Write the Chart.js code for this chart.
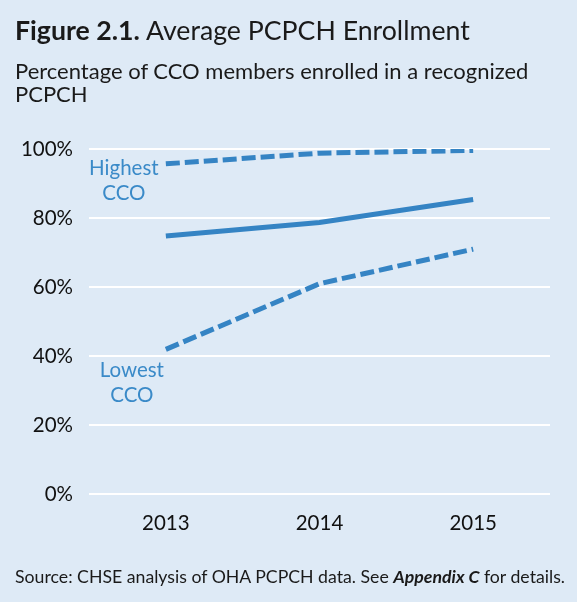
<!DOCTYPE html>
<html>
<head>
<meta charset="utf-8">
<script src="https://cdn.jsdelivr.net/npm/chart.js@4/dist/chart.umd.min.js"></script>
<style>
  html, body { margin: 0; padding: 0; }
  body { width: 577px; height: 602px; background: #deeaf6; position: relative; overflow: hidden; font-family: Lato, "Open Sans", sans-serif; color: #1a1a1a; }
  #wrap { position: absolute; left: 0; top: 0; width: 577px; height: 602px; }
  .title { position: absolute; left: 15px; top: 14px; font-size: 26.7px; white-space: nowrap; }
  .title b { font-weight: 700; }
  .sub { position: absolute; left: 15px; top: 59px; font-size: 22px; line-height: 23px; width: 540px; }
  .foot { position: absolute; left: 15px; top: 566px; font-size: 17.7px; white-space: nowrap; }
</style>
</head>
<body>
<div id="wrap"><canvas id="c"></canvas></div>
<div class="title"><b>Figure 2.1.</b> Average PCPCH Enrollment</div>
<div class="sub">Percentage of CCO members enrolled in a recognized PCPCH</div>
<div class="foot">Source: CHSE analysis of OHA PCPCH data. See <b><i>Appendix C</i></b> for details.</div>
<script>
// data
const years = ['2013', '2014', '2015'];
const highest = [95.7, 98.8, 99.6];
const average = [74.8, 78.7, 85.4];
const lowest = [42.0, 61.0, 71.0];
const yTicks = [0, 20, 40, 60, 80, 100];

const blue = '#3584c4';

// text labels next to the dashed lines
const sideLabels = {
  id: 'sideLabels',
  afterDatasetsDraw(chart) {
    const c = chart.ctx;
    const x0 = chart.scales.x.getPixelForValue(0);
    const y = chart.scales.y;
    c.save();
    c.fillStyle = '#3a8ac8';
    c.font = '20.5px Lato';
    c.textAlign = 'center';
    c.textBaseline = 'middle';
    const hy = y.getPixelForValue(highest[0]);
    c.fillText('Highest', x0 - 42, hy + 5);
    c.fillText('CCO', x0 - 42, hy + 30);
    const ly = y.getPixelForValue(lowest[0]);
    c.fillText('Lowest', x0 - 34, ly + 21);
    c.fillText('CCO', x0 - 34, ly + 46);
    c.restore();
  }
};

const ctx = document.getElementById('c').getContext('2d');
const chart = new Chart(ctx, {
  type: 'line',
  data: {
    labels: years,
    datasets: [
      { label: 'Highest CCO', data: highest, borderColor: blue, borderWidth: 5, borderDash: [14, 5], pointRadius: 0, tension: 0 },
      { label: 'Average', data: average, borderColor: blue, borderWidth: 5, pointRadius: 0, tension: 0 },
      { label: 'Lowest CCO', data: lowest, borderColor: blue, borderWidth: 5, borderDash: [14, 5], pointRadius: 0, tension: 0 }
    ]
  },
  options: {
    responsive: true,
    maintainAspectRatio: false,
    animation: false,
    layout: { padding: { top: 149, right: 27, bottom: 49, left: 0 } },
    plugins: { legend: { display: false }, tooltip: { enabled: false } },
    scales: {
      x: {
        offset: true,
        grid: { display: false, drawTicks: false },
        border: { display: false },
        ticks: { color: '#111', font: { family: 'Lato', size: 20.5 }, padding: 17 }
      },
      y: {
        min: 0,
        max: 100,
        afterFit(s) { s.width = 89; },
        afterBuildTicks(s) { s.ticks = yTicks.map(v => ({ value: v })); },
        grid: { color: '#ffffff', lineWidth: 2, drawTicks: false },
        border: { display: false },
        ticks: { color: '#111', font: { family: 'Lato', size: 20.5 }, padding: 16, callback: v => v + '%' }
      }
    }
  },
  plugins: [sideLabels]
});
</script>
</body>
</html>
